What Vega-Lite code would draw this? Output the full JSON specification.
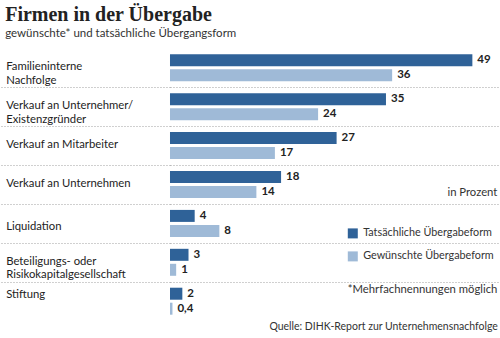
{
  "$schema": "https://vega.github.io/schema/vega-lite/v6.json",
  "width": 330.7,
  "height": 272.3,
  "padding": {"left": 0, "right": 0, "top": 4, "bottom": 0},
  "background": "white",
  "title": {
    "text": "Firmen in der Übergabe",
    "subtitle": "gewünschte* und tatsächliche Übergangsform",
    "anchor": "start",
    "frame": "bounds",
    "dx": 5,
    "font": "Liberation Serif",
    "fontSize": 20,
    "fontWeight": "bold",
    "color": "#222222",
    "subtitleFont": "Lato",
    "subtitleFontSize": 11.5,
    "subtitleColor": "#333333",
    "subtitlePadding": 3,
    "offset": 10
  },
  "config": {
    "view": {"stroke": null},
    "locale": {"number": {"decimal": ",", "thousands": ".", "grouping": [3], "currency": ["", " €"]}}
  },
  "data": {
    "values": [
      {"form": "Familieninterne|Nachfolge", "series": "Tatsächliche Übergabeform", "value": 49},
      {"form": "Familieninterne|Nachfolge", "series": "Gewünschte Übergabeform", "value": 36},
      {"form": "Verkauf an Unternehmer/|Existenzgründer", "series": "Tatsächliche Übergabeform", "value": 35},
      {"form": "Verkauf an Unternehmer/|Existenzgründer", "series": "Gewünschte Übergabeform", "value": 24},
      {"form": "Verkauf an Mitarbeiter", "series": "Tatsächliche Übergabeform", "value": 27},
      {"form": "Verkauf an Mitarbeiter", "series": "Gewünschte Übergabeform", "value": 17},
      {"form": "Verkauf an Unternehmen", "series": "Tatsächliche Übergabeform", "value": 18},
      {"form": "Verkauf an Unternehmen", "series": "Gewünschte Übergabeform", "value": 14},
      {"form": "Liquidation", "series": "Tatsächliche Übergabeform", "value": 4},
      {"form": "Liquidation", "series": "Gewünschte Übergabeform", "value": 8},
      {"form": "Beteiligungs- oder|Risikokapitalgesellschaft", "series": "Tatsächliche Übergabeform", "value": 3},
      {"form": "Beteiligungs- oder|Risikokapitalgesellschaft", "series": "Gewünschte Übergabeform", "value": 1},
      {"form": "Stiftung", "series": "Tatsächliche Übergabeform", "value": 2},
      {"form": "Stiftung", "series": "Gewünschte Übergabeform", "value": 0.4}
    ]
  },
  "encoding": {
    "y": {
      "field": "form",
      "type": "nominal",
      "scale": {
        "domain": ["Familieninterne|Nachfolge", "Verkauf an Unternehmer/|Existenzgründer", "Verkauf an Mitarbeiter", "Verkauf an Unternehmen", "Liquidation", "Beteiligungs- oder|Risikokapitalgesellschaft", "Stiftung"],
        "paddingInner": 0,
        "paddingOuter": 0
      },
      "axis": {
        "title": null,
        "domain": false,
        "bandPosition": 0,
        "ticks": true,
        "tickSize": 169.3,
        "tickColor": "#a0a0a0",
        "tickDash": [1, 2],
        "tickWidth": 1,
        "tickOpacity": {"condition": {"test": "datum.value === 'Familieninterne|Nachfolge'", "value": 0}, "value": 1},
        "grid": true,
        "gridColor": "#a0a0a0",
        "gridDash": [1, 2],
        "gridWidth": 1,
        "gridOpacity": {"condition": {"test": "datum.value === 'Familieninterne|Nachfolge'", "value": 0}, "value": 1},
        "labelAlign": "left",
        "labelBaseline": "middle",
        "labelPadding": -5,
        "labelOffset": {"condition": [{"test": "datum.value === 'Stiftung'", "value": -7}, {"test": "datum.value === 'Liquidation'", "value": 3}], "value": -1},
        "labelFont": "Lato",
        "labelFontSize": 11.3,
        "labelColor": "#222222",
        "labelExpr": "split(datum.label, '|')",
        "labelLineHeight": 13.5,
        "labelOverlap": false,
        "labelLimit": 200
      }
    },
    "x": {
      "field": "value",
      "type": "quantitative",
      "scale": {"domain": [0, 53.59], "nice": false, "zero": true},
      "axis": {
        "title": "Quelle: DIHK-Report zur Unternehmensnachfolge",
        "labels": false,
        "ticks": false,
        "domain": false,
        "grid": false,
        "titleFont": "Lato",
        "titleFontSize": 10.5,
        "titleFontWeight": "normal",
        "titleColor": "#333333",
        "titleAlign": "right",
        "titleAnchor": "end",
        "titleX": 327.4,
        "titlePadding": 0
      }
    }
  },
  "layer": [
    {
      "mark": {"type": "bar"},
      "encoding": {
        "yOffset": {
          "field": "series",
          "type": "nominal",
          "scale": {"domain": ["Tatsächliche Übergabeform", "Gewünschte Übergabeform"], "paddingInner": 0.2, "paddingOuter": 0.397, "align": 0.446}
        },
        "color": {
          "field": "series",
          "type": "nominal",
          "scale": {"domain": ["Tatsächliche Übergabeform", "Gewünschte Übergabeform"], "range": ["#2f6298", "#9fbad7"]},
          "legend": {
            "orient": "none",
            "legendX": 177.4,
            "legendY": 179,
            "title": null,
            "symbolType": "square",
            "symbolSize": 100,
            "symbolStrokeWidth": 0,
            "symbolOpacity": 1,
            "labelFont": "Lato",
            "labelFontSize": 10.8,
            "labelColor": "#333333",
            "labelOffset": 5,
            "labelLimit": 200,
            "rowPadding": 11
          }
        }
      }
    },
    {
      "mark": {"type": "text", "align": "left", "baseline": "middle", "dx": 5, "font": "Lato", "fontSize": 11.5, "fontWeight": "bold", "color": "#222222"},
      "encoding": {
        "yOffset": {"field": "series", "type": "nominal"},
        "text": {"field": "value", "type": "quantitative", "format": ".1~f"}
      }
    },
    {
      "transform": [{"filter": "datum.value === 49"}],
      "mark": {"type": "text", "align": "right", "baseline": "middle", "dy": 8, "font": "Lato", "fontSize": 11.3, "color": "#333333"},
      "encoding": {
        "x": {"datum": 53.05, "type": "quantitative"},
        "y": {"datum": "Verkauf an Unternehmen", "type": "nominal"},
        "text": {"value": "in Prozent"}
      }
    },
    {
      "transform": [{"filter": "datum.value === 49"}],
      "mark": {"type": "text", "align": "right", "baseline": "middle", "dy": -12, "font": "Lato", "fontSize": 11.3, "color": "#333333"},
      "encoding": {
        "x": {"datum": 53.05, "type": "quantitative"},
        "y": {"datum": "Stiftung", "type": "nominal"},
        "text": {"value": "*Mehrfachnennungen möglich"}
      }
    }
  ]
}
